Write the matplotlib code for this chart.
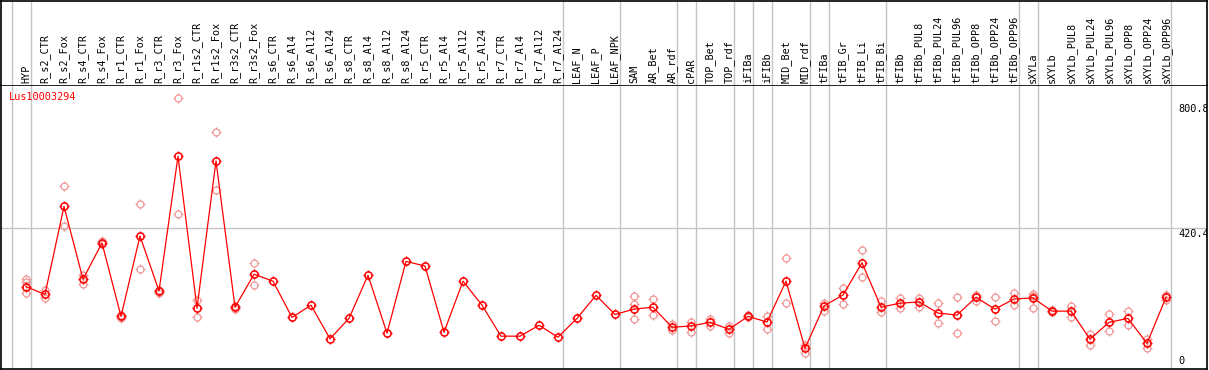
import matplotlib
matplotlib.use("Agg")
import matplotlib.pyplot as plt
import numpy as np
from matplotlib.path import Path

gene = "Lus10003294"

samples = [
    "HYP", "R_s2_CTR", "R_s2_Fox", "R_s4_CTR", "R_s4_Fox", "R_r1_CTR", "R_r1_Fox",
    "R_r3_CTR", "R_r3_Fox", "R_r1s2_CTR", "R_r1s2_Fox", "R_r3s2_CTR", "R_r3s2_Fox",
    "R_s6_CTR", "R_s6_Al4", "R_s6_Al12", "R_s6_Al24", "R_s8_CTR", "R_s8_Al4",
    "R_s8_Al12", "R_s8_Al24", "R_r5_CTR", "R_r5_Al4", "R_r5_Al12", "R_r5_Al24",
    "R_r7_CTR", "R_r7_Al4", "R_r7_Al12", "R_r7_Al24", "LEAF_N", "LEAF_P", "LEAF_NPK",
    "SAM", "AR_Bet", "AR_rdf", "cPAR", "TOP_Bet", "TOP_rdf", "iFIBa", "iFIBb",
    "MID_Bet", "MID_rdf", "tFIBa", "tFIB_Gr", "tFIB_Li", "tFIB_Bi", "tFIBb",
    "tFIBb_PUL8", "tFIBb_PUL24", "tFIBb_PUL96", "tFIBb_OPP8", "tFIBb_OPP24",
    "tFIBb_OPP96", "sXYLa", "sXYLb", "sXYLb_PUL8", "sXYLb_PUL24", "sXYLb_PUL96",
    "sXYLb_OPP8", "sXYLb_OPP24", "sXYLb_OPP96",
]

means = [
    243, 220, 487, 266, 376, 153, 397, 230, 639, 178, 625, 181, 281,
    260, 150, 187, 85, 147, 278, 102, 320, 306, 105, 260, 187,
    93, 93, 126, 90, 147, 217, 159,
    175, 181, 120, 124, 135, 114, 153, 136, 260, 56,
    185, 218, 316, 181, 193, 197, 163, 157, 211, 175, 206,
    209, 169, 169, 84, 135, 147, 71, 211,
]

replicates = [
    [266, 258, 223], [233, 208], [548, 427], [279, 250], [383, 373],
    [157, 147], [493, 296], [233, 223], [815, 463], [203, 150],
    [712, 536], [185, 174], [315, 247],
    [], [], [], [], [], [], [], [], [], [], [], [], [], [], [], [], [], [], [],
    [215, 191, 144], [206, 156], [129, 112], [137, 107], [146, 124],
    [124, 102], [156, 150], [154, 115], [329, 193], [66, 43],
    [195, 170], [238, 191], [354, 272], [201, 167], [208, 179],
    [208, 182], [193, 133], [211, 102], [218, 201], [211, 138], [223, 187],
    [221, 215, 179], [172, 166], [185, 152], [99, 66], [159, 108],
    [169, 128], [85, 58], [218, 203],
]

# group separators (after these sample indices)
group_ends = [-1, 0, 28, 31, 34, 35, 37, 38, 39, 41, 42, 45, 52, 53, 60]

y_ticks = [800.8, 420.4]

# small ticks sticking out of the circle markers
tick_path = Path(
    [(0.68, 0), (1, 0), (-0.68, 0), (-1, 0), (0, 0.68), (0, 1), (0, -0.68), (0, -1)],
    [Path.MOVETO, Path.LINETO] * 4,
)

W, H = 1209, 370
fig = plt.figure(figsize=(W / 100, H / 100), dpi=100)
fig.patch.set_facecolor("white")

left_px, right_px = 1, 1207
head_top, plot_top, plot_bot = 0.5, 85, 369
x0 = left_px / W
w = (right_px - left_px) / W
ax = fig.add_axes([x0, (H - plot_bot) / H, w, (plot_bot - plot_top) / H])
axh = fig.add_axes([x0, (H - plot_top) / H, w, (plot_top - head_top) / H])

n = len(samples)
idx = np.arange(n)
xmin = -(26 - left_px) / 19
xmax = xmin + (right_px - left_px) / 19
ymin, ymax = -6.7, 855.5

mono = "DejaVu Sans Mono"
grid_c = "#c4c4c4"

for a in (ax, axh):
    a.set_xlim(xmin, xmax)
    a.set_xticks([])
    a.set_yticks([])
    for k in group_ends:
        a.axvline(k + 0.25, color=grid_c, lw=1.0, zorder=0)
    for s in a.spines.values():
        s.set_color("black")
        s.set_linewidth(1.2)
axh.set_ylim(0, 1)
axh.spines["bottom"].set_visible(False)
ax.set_ylim(ymin, ymax)
ax.axhline(420.4, color=grid_c, lw=1.0, zorder=0)

for i, name in enumerate(samples):
    axh.text(i, 0.025, name, rotation=90, ha="center", va="bottom",
             fontsize=7.3, family=mono, color="black")

# replicate points
rx = [i for i, r in enumerate(replicates) for _ in r]
ry = [v for r in replicates for v in r]
rep_c = "#f09898"
ax.plot(rx, ry, linestyle="none", marker="o", markersize=5.0,
        markerfacecolor="none", markeredgecolor=rep_c,
        markeredgewidth=0.9, zorder=2)
ax.plot(rx, ry, linestyle="none", marker=tick_path, markersize=7.2,
        markeredgecolor=rep_c, markeredgewidth=0.9, zorder=2)

# mean profile
ax.plot(idx, means, color="red", lw=0.9, zorder=3)
ax.plot(idx, means, linestyle="none", marker="o", markersize=5.2,
        markerfacecolor="none", markeredgecolor="red",
        markeredgewidth=1.1, zorder=5)
ax.plot(idx, means, linestyle="none", marker=tick_path, markersize=7.4,
        markeredgecolor="red", markeredgewidth=1.0, zorder=5)

ax.text(8.3 / 1206, 0.958, gene, transform=ax.transAxes, color="red",
        fontsize=7.4, family=mono, ha="left", va="center")

lab_x = (1178 - left_px) / (right_px - left_px)
for v in y_ticks:
    ax.text(lab_x, v - 3, f"{v}", transform=ax.get_yaxis_transform(),
            fontsize=7.4, family=mono, ha="left", va="top", clip_on=True)
ax.text(lab_x, 1, "0", transform=ax.get_yaxis_transform(),
        fontsize=7.4, family=mono, ha="left", va="bottom")

fig.savefig("out.png", dpi=100)
